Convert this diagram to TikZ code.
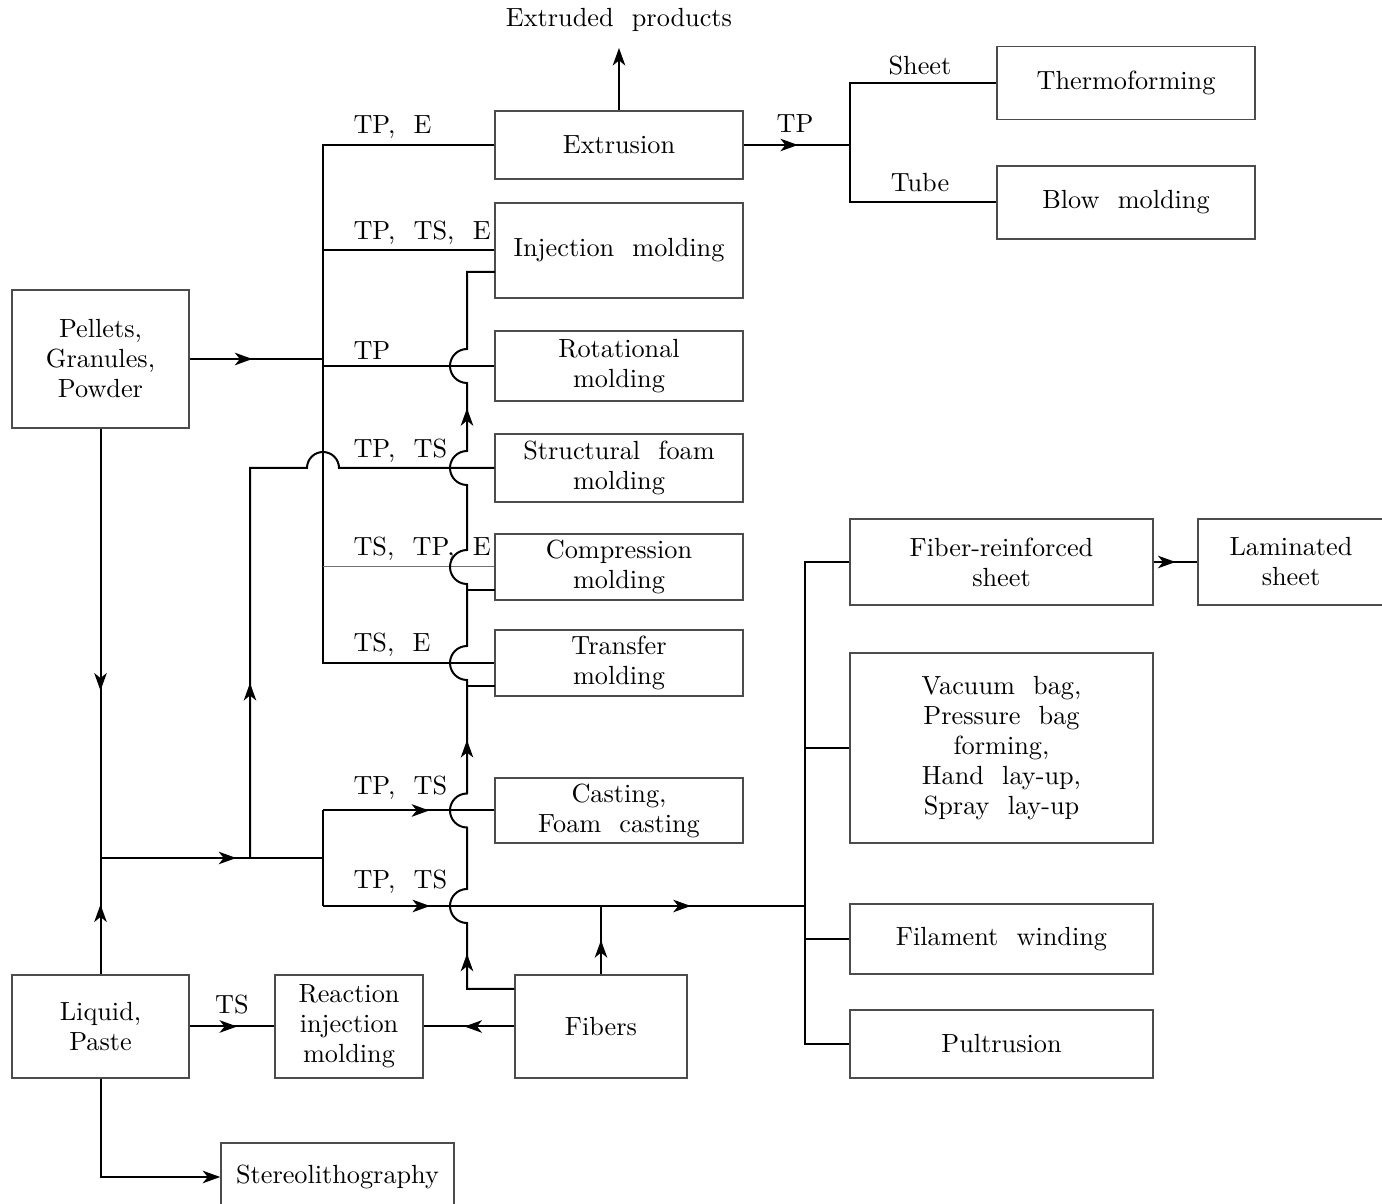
\documentclass[tikz,border=0pt]{standalone}
\usepackage{tikz}
\usetikzlibrary{calc,arrows.meta,decorations.markings,positioning}
\tikzset{
  box/.style={draw=black!70,line width=0.6pt,align=center,inner sep=2pt},
  sz/.style 2 args={minimum width=#1*0.4pt,minimum height=#2*0.4pt},
  conn/.style={line width=0.8pt},
  faint/.style={line width=0.4pt,black!55},
  lbl/.style={inner sep=0pt,anchor=west},
  tipat/.style={postaction={decorate},decoration={markings,mark=at position #1 with {\arrow{>}}}},
  every node/.style={font=\fontsize{10.5}{12}\selectfont,
    execute at begin node={\spaceskip=7.3pt plus 1pt\relax}},
  >={Stealth[length=7pt,width=5pt,inset=2pt]}
}
% jump of the fiber line over a horizontal line
\newcommand\hop[1]{-- ($(#1)+(0,17)$) arc[start angle=90,end angle=270,radius=17]}

\begin{document}
\begin{tikzpicture}[x=0.4pt,y=-0.4pt]
  \useasboundingbox (0,0) rectangle (1382,1204);
  % processes
  \node[box,sz={248}{68}] (extr) at (619,145) {Extrusion};
  \node[box,sz={248}{95}] (inj) at (619,250.5) {Injection molding};
  \node[box,sz={248}{70}] (rot) at (619,366) {Rotational\\molding};
  \node[box,sz={248}{68}] (foam) at (619,468) {Structural foam\\molding};
  \node[box,sz={248}{66}] (comp) at (619,567) {Compression\\molding};
  \node[box,sz={248}{66}] (trans) at (619,663) {Transfer\\molding};
  \node[box,sz={248}{65}] (cast) at (619,810.5) {Casting,\\Foam casting};
  \node[box,sz={258}{73}] (thermo) at (1126,83) {Thermoforming};
  \node[box,sz={258}{73}] (blow) at (1126,202.5) {Blow molding};
  \node[box,sz={177}{138}] (pellets) at (100.5,359) {Pellets,\\Granules,\\Powder};
  \node[box,sz={177}{103}] (liquid) at (100.5,1026.5) {Liquid,\\Paste};
  \node[box,sz={148}{103}] (rim) at (349,1026.5) {Reaction\\injection\\molding};
  \node[box,sz={172}{103}] (fibers) at (601,1026.5) {Fibers};
  \node[box,sz={233}{68}] (stereo) at (337.5,1177) {Stereolithography};
  \node[box,sz={303}{86}] (frs) at (1001.5,562) {Fiber-reinforced\\sheet};
  \node[box,sz={186}{86}] (lam) at (1291,562) {Laminated\\sheet};
  \node[box,sz={303}{190}] (vac) at (1001.5,748) {Vacuum bag,\\Pressure bag\\forming,\\Hand lay-up,\\Spray lay-up};
  \node[box,sz={303}{70}] (fil) at (1001.5,939) {Filament winding};
  \node[box,sz={303}{68}] (pul) at (1001.5,1044) {Pultrusion};
  \node (prod) at (619,20) {Extruded products};

  % junctions
  \coordinate (busT) at (323,145);
  \coordinate (join) at (100.5,858);
  \coordinate (split) at (250,858);
  \coordinate (fork) at (323,858);
  \coordinate (forkB) at (323,906);
  \coordinate (rbus) at (805,906);
  \coordinate (tb) at (850,145);
  \coordinate (fv) at (467,989);
  \coordinate (injin) at (495,272);
  \coordinate (compin) at (495,590);
  \coordinate (transin) at (495,686);

  % solid materials
  \draw[conn] (extr.west) -- (busT) |- (trans.west);
  \draw[conn] (busT |- inj.west) -- (inj.west);
  \draw[conn] (busT |- rot.west) -- (rot.west);
  \draw[faint] (busT |- comp.west) -- (comp.west);
  \draw[conn,tipat=0.47] (pellets.east) -- (pellets.east -| busT);
  \draw[conn,tipat=0.61] (pellets.south) -- (join);

  % liquids
  \draw[conn,tipat=0.6] (liquid.north) -- (join);
  \draw[conn,tipat=0.61] (join) -- (fork);
  \draw[conn,tipat=70pt] (split) -- (split |- foam.west)
    -- ($(busT |- foam.west)-(16,0)$) arc[start angle=180,end angle=360,radius=16]
    -- (foam.west);
  \draw[conn] (fork |- cast.west) -- (forkB);
  \draw[conn,tipat=0.62] (fork |- cast.west) -- (cast.west);
  \draw[conn,tipat=0.385] (forkB) -- (forkB -| fibers.north);
  \draw[conn,tipat=0.44] (forkB -| fibers.north) -- (rbus);
  \draw[conn,tipat=0.5] (fibers.north) -- (forkB -| fibers.north);
  \draw[conn,tipat=0.56] (liquid.east) -- (rim.west);
  \draw[conn,tipat=0.55] (fibers.west) -- (rim.east);
  \draw[conn,->] (liquid.south) |- (stereo.west);

  % fibers into the molds
  \draw[conn,postaction={decorate},decoration={markings,
      mark=at position 33pt with {\arrow{>}},
      mark=at position 134pt with {\arrow{>}},
      mark=at position 290pt with {\arrow{>}}}]
    (fibers.west |- fv) -- (fv) \hop{fv |- forkB} \hop{fv |- cast.west}
    \hop{fv |- trans.west} \hop{fv |- comp.west} \hop{fv |- foam.west}
    \hop{fv |- rot.west} -- (fv |- injin) -- (injin);
  \draw[conn] (fv |- compin) -- (compin);
  \draw[conn] (fv |- transin) -- (transin);

  % composites
  \draw[conn] (frs.west) -| (rbus) |- (pul.west);
  \draw[conn] (vac.west -| rbus) -- (vac.west);
  \draw[conn] (fil.west -| rbus) -- (fil.west);
  \draw[conn,tipat=0.5] (frs.east) -- (lam.west);

  % extrusion outputs
  \draw[conn,tipat=0.51] (extr.east) -- (tb);
  \draw[conn] (thermo.west) -| (tb) |- (blow.west);
  \draw[conn,->,shorten >=3pt] (extr.north) -- (prod.south);

  % labels
  \node[lbl] (lExtr) at (353,127) {TP, E};
  \node[lbl] (lInj) at (353,233) {TP, TS, E};
  \node[lbl] (lRot) at (353,351) {TP};
  \node[lbl] (lFoam) at (353,451) {TP, TS};
  \node[lbl] (lComp) at (353,549) {TS, TP, E};
  \node[lbl] (lTrans) at (353,645) {TS, E};
  \node[lbl] (lCast) at (353,788) {TP, TS};
  \node[lbl] (lLow) at (353,882) {TP, TS};
  \node (lTP) at (795,124) {TP};
  \node (lSheet) at (920,66) {Sheet};
  \node (lTube) at (920,183) {Tube};
  \node (lTS) at (232,1005) {TS};
\end{tikzpicture}
\end{document}
